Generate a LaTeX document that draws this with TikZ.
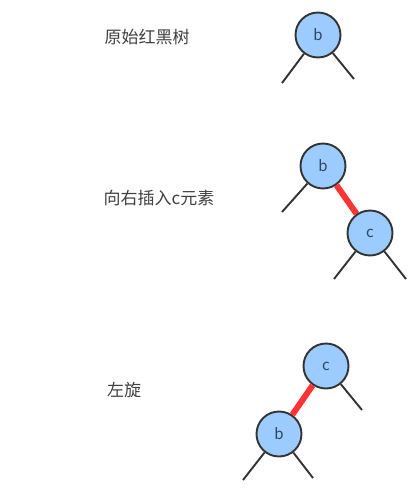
\documentclass[tikz,border=0pt]{standalone}
\usepackage{fontspec}
\setmainfont{Noto Sans CJK SC}
\definecolor{nodeblue}{HTML}{9CCBFF}
\definecolor{edgegray}{HTML}{333333}
\definecolor{labelblue}{HTML}{2E4660}
\definecolor{redlink}{HTML}{FF3333}
\tikzset{
  rbnode/.style={draw=edgegray,line width=1.9pt,circle,fill=nodeblue,minimum size=45pt,inner sep=0pt,
    text=labelblue,font=\fontsize{15}{17}\selectfont},
  leg/.style={draw=edgegray,line width=1.9pt},
  redleg/.style={draw=redlink,line width=6pt},
  caption/.style={text=black!75,font=\fontsize{17}{20}\selectfont}
}
\begin{document}
\begin{tikzpicture}[x=1pt,y=-1pt]
  \useasboundingbox (0,0) rectangle (408,488);

  % original tree
  \node (t1) at (147,37) [caption]{原始红黑树};
  \node (b1) at (318,35) [rbnode]{b};
  \coordinate (b1l) at (282,83);
  \coordinate (b1r) at (354,79);

  \draw[leg] (b1) -- (b1l);
  \draw[leg] (b1) -- (b1r);

  % insert c on the right
  \node (t2) at (159,198) [caption]{向右插入c元素};
  \node (b2) at (323,166) [rbnode]{b};
  \node (c2) at (370,233) [rbnode]{c};
  \coordinate (b2l) at (282,212);
  \coordinate (c2l) at (334,279);
  \coordinate (c2r) at (406,279);

  \draw[redleg] (b2) -- (c2);
  \draw[leg] (b2) -- (b2l);
  \draw[leg] (c2) -- (c2l);
  \draw[leg] (c2) -- (c2r);

  % left rotation
  \node (t3) at (124,390) [caption]{左旋};
  \node (c3) at (326,366) [rbnode]{c};
  \node (b3) at (279,434) [rbnode]{b};
  \coordinate (c3r) at (362,410);
  \coordinate (b3l) at (243,480);
  \coordinate (b3r) at (313,478);

  \draw[redleg] (c3) -- (b3);
  \draw[leg] (c3) -- (c3r);
  \draw[leg] (b3) -- (b3l);
  \draw[leg] (b3) -- (b3r);

\end{tikzpicture}
\end{document}
